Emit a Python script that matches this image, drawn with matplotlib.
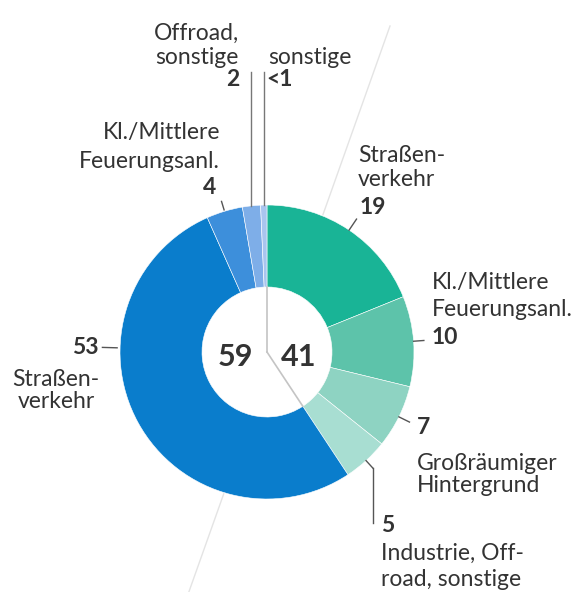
import numpy as np
import matplotlib.pyplot as plt
from matplotlib import font_manager
from matplotlib.patches import Circle

# Anteile (in %), im Uhrzeigersinn ab 12 Uhr
anteile = [19, 10, 7, 5, 53, 4, 2, 0.7]
wert_labels = ["19", "10", "7", "5", "53", "4", "2", "<1"]
kategorien = [
    "Straßen-\nverkehr",
    "Kl./Mittlere\nFeuerungsanl.",
    "Großräumiger\nHintergrund",
    "Industrie, Off-\nroad, sonstige",
    "Straßen-\nverkehr",
    "Kl./Mittlere\nFeuerungsanl.",
    "Offroad,\nsonstige",
    "sonstige",
]
farben = ["#19b496", "#5dc3aa", "#8ed3c2", "#a8ded2",
          "#0a7dcc", "#3d8fdb", "#7eaee8", "#a9c5ef"]
summen = ["59", "41"]

# Schrift
namen = {f.name for f in font_manager.fontManager.ttflist}
schrift = "Lato" if "Lato" in namen else "DejaVu Sans"
plt.rcParams['font.family'] = [schrift, 'DejaVu Sans']
TXT = "#333333"
FS = 16.5

W, H = 576, 592
fig = plt.figure(figsize=(W / 100, H / 100), dpi=100)
ax = fig.add_axes([0, 0, 1, 1])

def py(y):
    # Pixel von oben -> Datenkoordinate
    return H - y

cx, cy, R = 267, py(352), 147
r_in = 65

# dezente Diagonale hinter dem Ring
ax.plot([390, 186], [py(26), py(600)], color="#e4e4e4", lw=1, zorder=0)
ax.add_patch(Circle((cx, cy), R, color="white", zorder=1))

wedges, _ = ax.pie(anteile, colors=farben, startangle=90, counterclock=False,
                   center=(cx, cy), radius=R,
                   wedgeprops=dict(width=R - r_in, edgecolor="white", linewidth=0.4))
for w in wedges:
    w.set_zorder(2)

ax.set_xlim(0, W)
ax.set_ylim(0, H)
ax.set_aspect('equal')
ax.axis('off')

def mitte(i):
    w = wedges[i]
    return np.deg2rad((w.theta1 + w.theta2) / 2)

def punkt(a, r):
    return cx + r * R * np.cos(a), cy + r * R * np.sin(a)

def strich(a, r0, r1):
    p0, p1 = punkt(a, r0), punkt(a, r1)
    ax.plot([p0[0], p1[0]], [p0[1], p1[1]], color="#555555", lw=1, zorder=3)

# Linien im Loch: 12 Uhr und Grenze 41/59
grenze = np.deg2rad(min(wedges[3].theta1, wedges[3].theta2))
for a in [np.pi / 2, grenze]:
    ax.plot([cx, cx + r_in * np.cos(a)], [cy, cy + r_in * np.sin(a)],
            color="#c4c4c4", lw=1.2, zorder=3)

# Führungslinien
strich(mitte(0), 1.0, 1.09)
strich(mitte(1), 1.0, 1.07)
strich(mitte(2), 1.0, 1.08)
strich(mitte(3), 1.0, 1.07)
p = punkt(mitte(3), 1.07)
ax.plot([p[0], p[0]], [p[1], py(523)], color="#555555", lw=1, zorder=3)
strich(np.deg2rad(178.4), 1.02, 1.12)
strich(mitte(5), 1.01, 1.07)
for i in [6, 7]:
    p = punkt(mitte(i), 1.0)
    ax.plot([p[0], p[0]], [p[1], py(72)], color="#777777", lw=1, zorder=3)

def block(text, x, y, ha, step=25):
    for k, zeile in enumerate(text.split("\n")):
        ax.text(x, py(y + k * step), zeile, ha=ha, va='center',
                fontsize=FS, color=TXT, zorder=4)

def zahl(text, x, y, ha, fs=FS):
    ax.text(x, py(y), text, ha=ha, va='center', fontsize=fs,
            fontweight='bold', color=TXT, zorder=4)

# rechte Seite (grün)
block(kategorien[0], 358, 155, 'left')
zahl(wert_labels[0], 360, 207, 'left')
block(kategorien[1], 432, 283, 'left', 27)
zahl(wert_labels[1], 432, 337, 'left')
zahl(wert_labels[2], 417, 428, 'left')
block(kategorien[2], 417, 463, 'left', 23)
zahl(wert_labels[3], 381, 525, 'left')
block(kategorien[3], 381, 553, 'left', 27)

# linke Seite (blau)
zahl(wert_labels[4], 99, 348, 'right')
block(kategorien[4], 56, 379, 'center', 23)
block(kategorien[5], 220, 133, 'right', 28)
zahl(wert_labels[5], 216, 188, 'right')
block(kategorien[6], 239, 33, 'right')
zahl(wert_labels[6], 239, 80, 'right')
block(kategorien[7], 268, 58, 'left')
zahl(wert_labels[7], 266, 80, 'left')

# Summen im Loch
ax.text(235, py(357), summen[0], ha='center', va='center', fontsize=22,
        fontweight='bold', color=TXT, zorder=4)
ax.text(299, py(357), summen[1], ha='center', va='center', fontsize=22,
        fontweight='bold', color=TXT, zorder=4)

plt.savefig("out.png", dpi=100)
